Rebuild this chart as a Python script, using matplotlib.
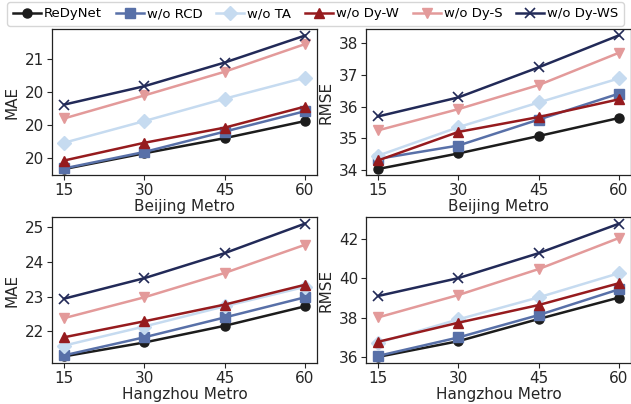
import matplotlib
matplotlib.use('Agg')
import matplotlib.pyplot as plt
from matplotlib.ticker import FormatStrFormatter

horizons = [15, 30, 45, 60]
methods = ['ReDyNet', 'w/o RCD', 'w/o TA', 'w/o Dy-W', 'w/o Dy-S', 'w/o Dy-WS']
colors = ['#1c1c1c', '#5870a8', '#c6dbf0', '#961b1e', '#e39a9a', '#222a58']
markers = ['o', 's', 'D', '^', 'v', 'x']

# one row per method, same order as `methods`
bj_mae = [
    [19.33, 19.57, 19.80, 20.06],
    [19.34, 19.59, 19.90, 20.21],
    [19.73, 20.06, 20.40, 20.72],
    [19.46, 19.73, 19.96, 20.28],
    [20.10, 20.45, 20.81, 21.23],
    [20.31, 20.59, 20.95, 21.36],
]
bj_rmse = [
    [34.03, 34.52, 35.07, 35.64],
    [34.35, 34.77, 35.59, 36.41],
    [34.45, 35.35, 36.13, 36.89],
    [34.30, 35.20, 35.67, 36.23],
    [35.25, 35.92, 36.68, 37.70],
    [35.69, 36.29, 37.24, 38.25],
]
hz_mae = [
    [21.28, 21.68, 22.16, 22.72],
    [21.31, 21.83, 22.40, 22.98],
    [21.59, 22.14, 22.72, 23.28],
    [21.83, 22.29, 22.77, 23.34],
    [22.38, 22.98, 23.68, 24.49],
    [22.94, 23.53, 24.25, 25.10],
]
hz_rmse = [
    [36.00, 36.80, 37.93, 39.02],
    [36.05, 36.99, 38.13, 39.44],
    [36.72, 37.91, 39.03, 40.26],
    [36.77, 37.74, 38.64, 39.75],
    [38.01, 39.15, 40.47, 42.05],
    [39.10, 40.01, 41.28, 42.78],
]

panels = [
    (bj_mae, 'MAE', 'Beijing Metro', [19.5, 20.0, 20.5, 21.0], (19.24, 21.46)),
    (bj_rmse, 'RMSE', 'Beijing Metro', [34, 35, 36, 37, 38], (33.84, 38.45)),
    (hz_mae, 'MAE', 'Hangzhou Metro', [22, 23, 24, 25], (21.09, 25.29)),
    (hz_rmse, 'RMSE', 'Hangzhou Metro', [36, 38, 40, 42], (35.69, 43.12)),
]

W, H = 631, 404
fig = plt.figure(figsize=(W / 100, H / 100), dpi=100)
boxes = [(52, 29), (366, 29), (52, 217), (366, 217)]

TXT = '#262626'
for (data, ylab, xlab, yt, ylim), (px, py) in zip(panels, boxes):
    ax = fig.add_axes([px / W, 1 - (py + 146) / H, 265 / W, 146 / H])
    for i, name in enumerate(methods):
        ms = 7 if markers[i] == 'D' else 6.5
        if markers[i] == 'x':
            ms = 7.5
        ax.plot(horizons, data[i], color=colors[i], marker=markers[i], lw=1.8,
                ms=ms, mew=1.2 if markers[i] == 'x' else 1, label=name)
    ax.set_xticks(horizons)
    ax.set_yticks(yt)
    ax.set_ylim(*ylim)
    ax.set_xlim(12.75, 62.25)
    ax.yaxis.set_major_formatter(FormatStrFormatter('%.0f'))
    ax.set_ylabel(ylab, fontsize=11, color=TXT, labelpad=4)
    ax.set_xlabel(xlab, fontsize=11, color=TXT, labelpad=1)
    ax.tick_params(labelsize=11, colors=TXT, length=3.5, width=0.8, pad=2)
    for sp in ax.spines.values():
        sp.set_color('#222222')
        sp.set_linewidth(0.9)
    if ax is fig.axes[0]:
        handles, labels = ax.get_legend_handles_labels()

fig.legend(handles, labels, loc='upper center', bbox_to_anchor=(0.5, 1.0), ncol=6,
           fontsize=9.5, frameon=True, edgecolor='#cccccc', fancybox=True,
           handlelength=2.15, handletextpad=0.2, columnspacing=1.05,
           borderpad=0.4, borderaxespad=0.15)

fig.savefig('out.png', dpi=100)
